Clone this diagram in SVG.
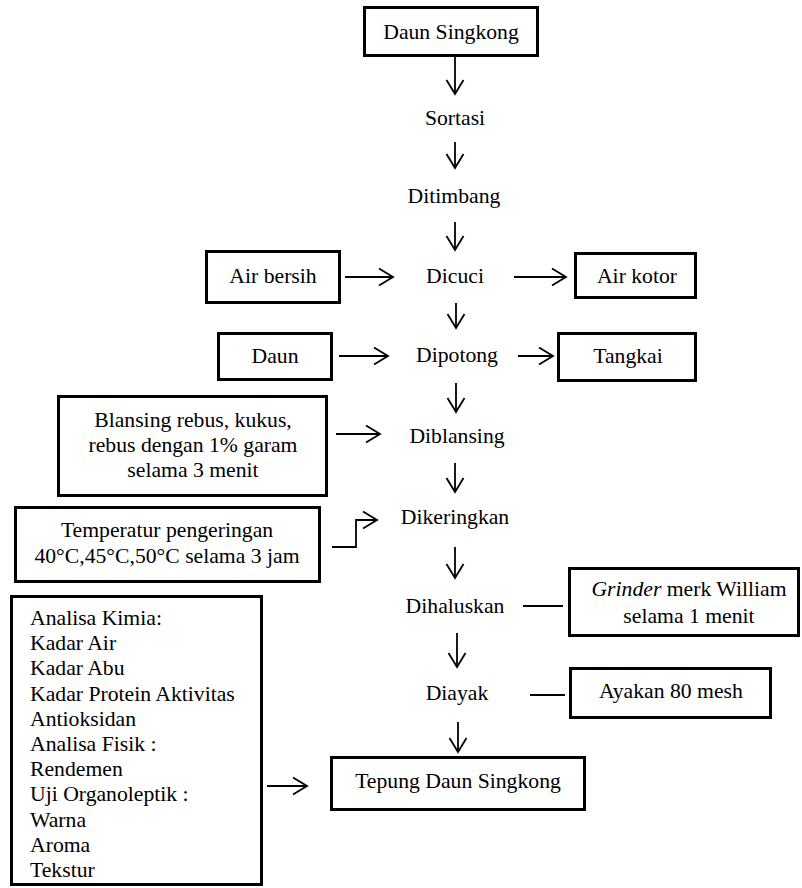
<svg xmlns="http://www.w3.org/2000/svg" width="802" height="888" viewBox="0 0 802 888" font-family="'Liberation Serif', Tinos, 'Times New Roman', 'DejaVu Serif', serif">
<style>
.box{fill:#fff;stroke:#000;stroke-width:3}
text{font-family:'Liberation Serif',Tinos,'Times New Roman','DejaVu Serif',serif;font-size:21.7px;fill:#000}
.c{text-anchor:middle}
.ln{fill:none;stroke:#000;stroke-width:1.8}
</style>
<defs>
<marker id="ah" markerUnits="userSpaceOnUse" viewBox="-16 -10 18 20" refX="0" refY="0" markerWidth="18" markerHeight="20" orient="auto">
<path d="M-14,-8.5 L0,0 L-14,8.5" fill="none" stroke="#000" stroke-width="1.8"/>
</marker>
</defs>
<rect width="802" height="888" fill="#fff"/>
<g id="connectors">
<path class="ln" marker-end="url(#ah)" d="M455,57 V94"/>
<path class="ln" marker-end="url(#ah)" d="M455,142 V168"/>
<path class="ln" marker-end="url(#ah)" d="M455,222 V250"/>
<path class="ln" marker-end="url(#ah)" d="M456,303 V328"/>
<path class="ln" marker-end="url(#ah)" d="M456,383 V412"/>
<path class="ln" marker-end="url(#ah)" d="M455,463 V492"/>
<path class="ln" marker-end="url(#ah)" d="M455,547 V578"/>
<path class="ln" marker-end="url(#ah)" d="M457,633 V667"/>
<path class="ln" marker-end="url(#ah)" d="M458,722 V752"/>
<path class="ln" marker-end="url(#ah)" d="M345,277 H393"/>
<path class="ln" marker-end="url(#ah)" d="M514,277 H566"/>
<path class="ln" marker-end="url(#ah)" d="M339,356 H388"/>
<path class="ln" marker-end="url(#ah)" d="M518,356 H553"/>
<path class="ln" marker-end="url(#ah)" d="M336,434 H380"/>
<path class="ln" marker-end="url(#ah)" d="M332,547 H356 V520 H377"/>
<path class="ln" marker-end="url(#ah)" d="M267,786 H307"/>
<path class="ln" d="M523,606 H563"/>
<path class="ln" d="M530,695 H565"/>
</g>
<g id="daun-singkong"><rect class="box" x="364.5" y="7.5" width="173" height="48"/><text class="c" x="451" y="39">Daun Singkong</text></g>
<g id="sortasi"><text class="c" x="455" y="125">Sortasi</text></g>
<g id="ditimbang"><text class="c" x="454" y="203">Ditimbang</text></g>
<g id="dicuci"><text class="c" x="455" y="283">Dicuci</text></g>
<g id="air-bersih"><rect class="box" x="206.5" y="251.5" width="133" height="51"/><text class="c" x="273" y="283">Air bersih</text></g>
<g id="air-kotor"><rect class="box" x="575.5" y="253.5" width="120" height="44"/><text class="c" x="637" y="283">Air kotor</text></g>
<g id="dipotong"><text class="c" x="457" y="362">Dipotong</text></g>
<g id="daun"><rect class="box" x="218.5" y="333.5" width="113" height="46"/><text class="c" x="275" y="363">Daun</text></g>
<g id="tangkai"><rect class="box" x="558.5" y="333.5" width="137" height="47"/><text class="c" x="628" y="363">Tangkai</text></g>
<g id="diblansing"><text class="c" x="457" y="443">Diblansing</text></g>
<g id="blansing"><rect class="box" x="58.5" y="396.5" width="268" height="99"/>
<text class="c" x="193" y="427">Blansing rebus, kukus,</text>
<text class="c" x="193" y="452">rebus dengan 1% garam</text>
<text class="c" x="193" y="477">selama 3 menit</text></g>
<g id="dikeringkan"><text class="c" x="455" y="524">Dikeringkan</text></g>
<g id="temperatur"><rect class="box" x="15.5" y="507.5" width="304" height="74"/>
<text class="c" x="167" y="537">Temperatur pengeringan</text>
<text class="c" x="167" y="563">40°C,45°C,50°C selama 3 jam</text></g>
<g id="dihaluskan"><text class="c" x="455" y="613">Dihaluskan</text></g>
<g id="grinder"><rect class="box" x="569.5" y="568.5" width="229" height="67"/>
<text class="c" x="689" y="596"><tspan font-style="italic">Grinder</tspan> merk William</text>
<text class="c" x="689" y="623">selama 1 menit</text></g>
<g id="diayak"><text class="c" x="457" y="700">Diayak</text></g>
<g id="ayakan"><rect class="box" x="570.5" y="668.5" width="200" height="49"/><text class="c" x="671" y="698">Ayakan 80 mesh</text></g>
<g id="tepung"><rect class="box" x="331.5" y="757.5" width="253" height="52"/><text class="c" x="458" y="788">Tepung Daun Singkong</text></g>
<g id="analisa"><rect class="box" x="11.5" y="596.5" width="250" height="288"/>
<text x="30" y="625">Analisa Kimia:</text>
<text x="30" y="650.2">Kadar Air</text>
<text x="30" y="675.4">Kadar Abu</text>
<text x="30" y="700.6">Kadar Protein Aktivitas</text>
<text x="30" y="725.8">Antioksidan</text>
<text x="30" y="751">Analisa Fisik :</text>
<text x="30" y="776.2">Rendemen</text>
<text x="30" y="801.4">Uji Organoleptik :</text>
<text x="30" y="826.6">Warna</text>
<text x="30" y="851.8">Aroma</text>
<text x="30" y="877">Tekstur</text></g>
</svg>
